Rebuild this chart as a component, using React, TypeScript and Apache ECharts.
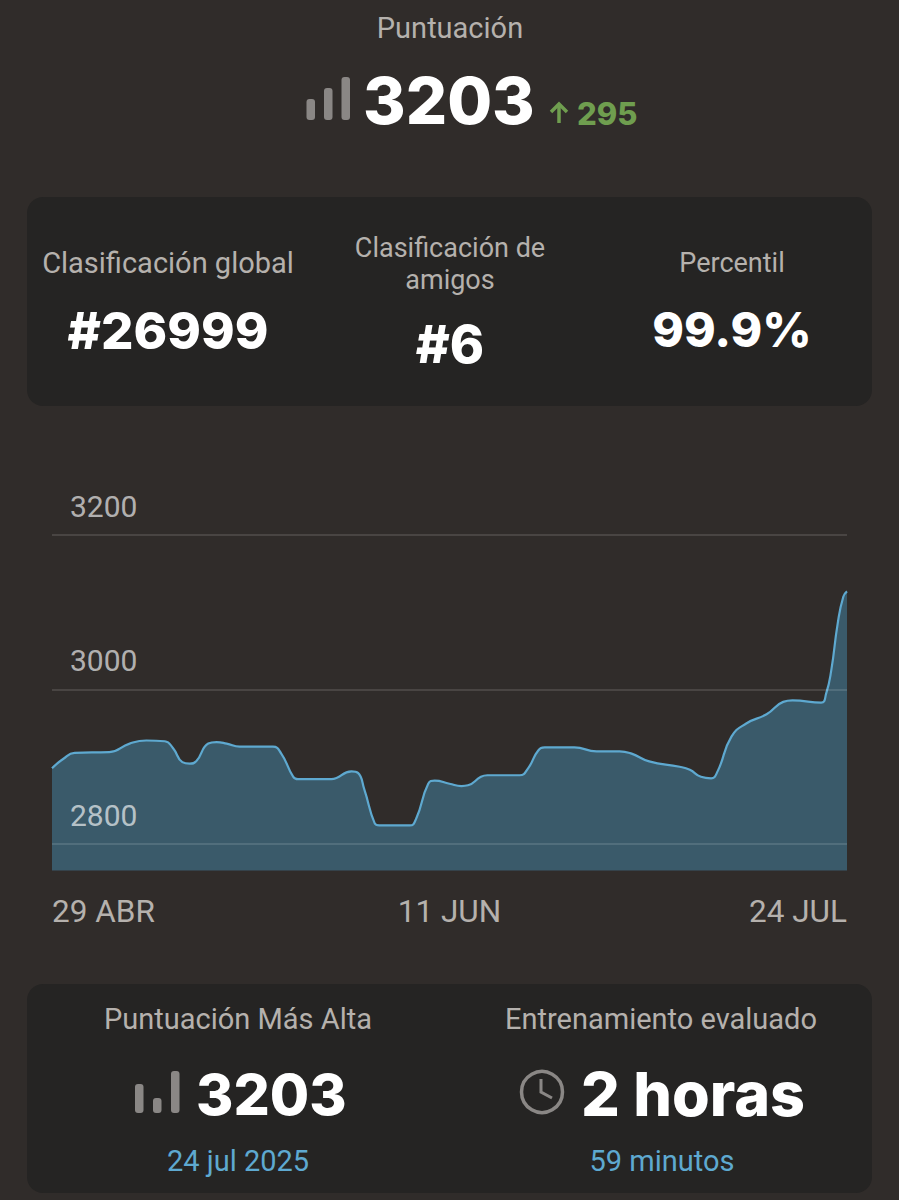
import { useEffect, useRef } from 'react';
import * as echarts from 'echarts';

// days since 29 apr, and the score
const days = [
  0, 1.2, 2.45, 6.2, 8.4, 10.2, 12.2, 13.1, 14.1, 14.9, 15.6, 16.9, 17.8, 18.9, 20.3, 23.9, 24.8, 26.1, 26.6,
  30.2, 32.4, 33.1, 33.8, 34.9, 35.4, 38.7, 39.4, 40.7, 41.4, 43, 44.3, 45, 46.4, 47.1, 50.6, 51.5, 52.6, 53.3,
  56.5, 58.9, 61.4, 62.7, 64.6, 67.9, 69, 70.2, 71.3, 72, 73.5, 75.1, 77.3, 79.1, 80.1, 83.2, 83.75, 84.3, 85, 85.6, 86,
];
const scores = [
  2898, 2910, 2918, 2919, 2930, 2934, 2933, 2924, 2906, 2904, 2907, 2930, 2932, 2930, 2926, 2926, 2917, 2887, 2884,
  2884, 2894, 2892, 2870, 2827, 2824, 2824, 2833, 2878, 2882, 2878, 2875, 2876, 2887, 2889, 2889, 2898, 2921, 2925,
  2925, 2920, 2920, 2917, 2907, 2900, 2896, 2887, 2885, 2894, 2939, 2956, 2968, 2984, 2986, 2983, 2995, 3025, 3086, 3120, 3127,
];
const yTicks = [2800, 3000, 3200];
const xTicks = [0, 43, 86];
const xTickLabels = ['29 ABR', '11 JUN', '24 JUL'];

const BG = '#302c2a';
const CARD = '#252423';
const GREY = '#b5b1ad';
const ICON = '#8a8785';
const BLUE = '#5ea9d0';
const LABEL_FONT = 'Roboto';
const NUM_FONT = 'Inter';

function label(text: string, x: number, y: number, size = 29, fill = GREY) {
  return {
    type: 'text',
    x,
    y,
    style: { text, fill, font: `400 ${size}px ${LABEL_FONT}`, textAlign: 'center', textVerticalAlign: 'middle' },
  };
}

function bigNumber(text: string, x: number, y: number, size: number, align = 'center', fill = '#ffffff') {
  return {
    type: 'text',
    x,
    y,
    style: { text, fill, font: `800 ${size}px ${NUM_FONT}`, textAlign: align, textVerticalAlign: 'middle' },
  };
}

function bar(x: number, top: number, bottom: number, w = 8.5) {
  return {
    type: 'rect',
    shape: { x, y: top, width: w, height: bottom - top, r: 3 },
    style: { fill: ICON },
  };
}

export default function App() {
  const elRef = useRef<HTMLDivElement | null>(null);

  useEffect(() => {
    if (!elRef.current) return;
    const chart = echarts.init(elRef.current, null, { renderer: 'svg' });
    chart.setOption({
      animation: false,
      backgroundColor: BG,
      grid: { left: 52, right: 52, top: 535, bottom: 329.5 },
      xAxis: {
        type: 'value',
        min: 0,
        max: 86,
        splitLine: { show: false },
        axisLine: { show: false },
        axisTick: { show: false, customValues: xTicks },
        axisLabel: {
          customValues: xTicks,
          formatter: (v: number) => xTickLabels[xTicks.indexOf(v)] ?? '',
          color: GREY,
          fontFamily: LABEL_FONT,
          fontSize: 31.5,
          margin: 25,
          alignMinLabel: 'left',
          alignMaxLabel: 'right',
          showMinLabel: true,
          showMaxLabel: true,
        },
      },
      yAxis: {
        type: 'value',
        min: 2765.7,
        max: 3200,
        z: 5,
        axisLine: { show: false },
        axisTick: { show: false, customValues: yTicks },
        splitLine: { show: true, lineStyle: { color: 'rgba(255,255,255,0.12)', width: 2 } },
        axisLabel: {
          customValues: yTicks,
          formatter: (v: number) => String(v),
          inside: true,
          margin: 18,
          color: 'rgba(255,255,255,0.65)',
          fontFamily: LABEL_FONT,
          fontSize: 30,
          verticalAlign: 'bottom',
          padding: [0, 0, 14, 0],
          showMinLabel: true,
          showMaxLabel: true,
        },
      },
      series: [
        {
          type: 'line',
          data: days.map((d, i) => [d, scores[i]]),
          smooth: 0.5,
          symbol: 'none',
          lineStyle: { color: BLUE, width: 2.2 },
          areaStyle: { color: 'rgba(75,165,210,0.38)', opacity: 1, origin: 'start' },
          z: 3,
        },
      ],
      graphic: [
        { type: 'rect', shape: { x: 27, y: 197, width: 845, height: 209, r: 16 }, style: { fill: CARD } },
        { type: 'rect', shape: { x: 27, y: 984, width: 845, height: 209, r: 16 }, style: { fill: CARD } },

        label('Puntuación', 450, 28),
        bar(306.5, 99, 120),
        bar(324, 88, 120),
        bar(341.5, 77, 120),
        bigNumber('3203', 363, 100, 65, 'left'),
        {
          type: 'polyline',
          shape: { points: [[551, 112], [559, 104], [567, 112]] },
          style: { stroke: '#6f9e4f', lineWidth: 3.5, fill: 'none' },
        },
        {
          type: 'line',
          shape: { x1: 559, y1: 105, x2: 559, y2: 123 },
          style: { stroke: '#6f9e4f', lineWidth: 3.5 },
        },
        bigNumber('295', 577, 113, 31, 'left', '#6f9e4f'),

        label('Clasificación global', 168, 263),
        bigNumber('#26999', 168, 330, 51),
        label('Clasificación de', 450, 248, 27),
        label('amigos', 450, 280, 27),
        bigNumber('#6', 450, 344, 52),
        label('Percentil', 732, 263, 27),
        bigNumber('99.9%', 732, 329, 48),

        label('Puntuación Más Alta', 238, 1019),
        bar(135, 1084, 1113),
        bar(153, 1098, 1113),
        bar(171, 1071, 1113),
        bigNumber('3203', 196, 1094, 57, 'left'),
        label('24 jul 2025', 238, 1161, 29, BLUE),

        label('Entrenamiento evaluado', 661, 1019),
        {
          type: 'circle',
          shape: { cx: 542, cy: 1092, r: 20.5 },
          style: { stroke: ICON, lineWidth: 3.5, fill: 'none' },
        },
        {
          type: 'polyline',
          shape: { points: [[541, 1079], [541, 1092], [552, 1098]] },
          style: { stroke: ICON, lineWidth: 3, fill: 'none' },
        },
        bigNumber('2 horas', 581, 1094, 61, 'left'),
        label('59 minutos', 662, 1161, 29, BLUE),
      ],
    });
    return () => {
      chart.dispose();
    };
  }, []);

  return <div ref={elRef} style={{ position: 'absolute', left: 0, top: 0, width: 899, height: 1200 }} />;
}
